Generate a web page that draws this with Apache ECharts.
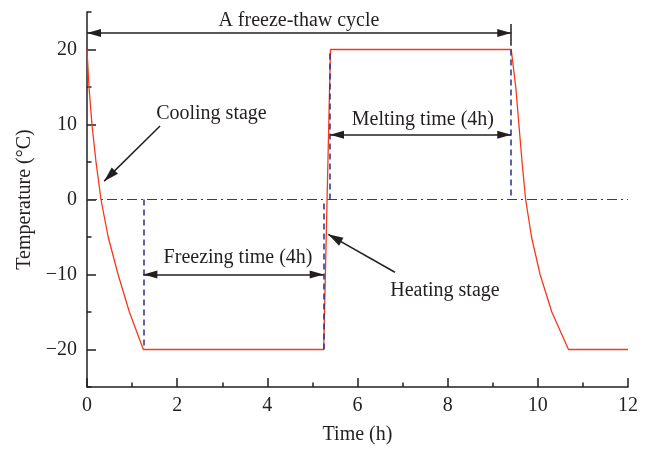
<!DOCTYPE html>
<html>
<head>
<meta charset="utf-8">
<script src="https://cdn.jsdelivr.net/npm/echarts@6/dist/echarts.min.js"></script>
<style>html,body{margin:0;padding:0;background:#fff}#c{width:647px;height:450px}</style>
</head>
<body>
<div id="c"></div>
<script>
// ---- data ----
const timeH = [0, 0.044, 0.11, 0.2, 0.31, 0.47, 0.69, 0.94, 1.25, 5.25, 5.4, 9.41, 9.51, 9.58, 9.65, 9.73, 9.86, 10.05, 10.31, 10.68, 12];
const tempC = [20, 15, 10, 5, 0, -5, -10, -15, -20, -20, 20, 20, 15, 10, 5, 0, -5, -10, -15, -20, -20];
const xTicks = [0, 2, 4, 6, 8, 10, 12];
const yTicks = [-20, -10, 0, 10, 20];
const zeroLine = [[0, 0], [12, 0]];
// dashed guide lines: [t, fromTemp, toTemp]
const guides = [[1.25, 0, -20], [5.25, -20, 0], [5.39, 0, 20], [9.41, 20, 0]];
// double arrows: [tFrom, tTo, temp]
const spans = [[0, 9.41, 22.2], [5.39, 9.41, 8.64], [1.25, 5.25, -10]];
// pointer arrows: [tFrom, tempFrom, tTo, tempTo]
const pointers = [[1.62, 9.8, 0.38, 2.45], [6.83, -9.7, 5.35, -4.64]];
// cycle end bar: [t, from, to]
const endBar = [9.41, 20.5, 23.4];
// text labels: [t, temp, text]
const notes = [
  [4.70, 23.9, 'A freeze-thaw cycle'],
  [7.45, 10.6, 'Melting time (4h)'],
  [3.35, -7.7, 'Freezing time (4h)'],
  [2.76, 11.5, 'Cooling stage'],
  [7.94, -12.2, 'Heating stage']
];

const F = '"Liberation Serif", "DejaVu Serif", serif';
const INK = '#231f20';
const fmt = v => (v < 0 ? '\u2212' + Math.abs(v) : String(v));

const arrowLines = [];
spans.forEach(s => {
  arrowLines.push([
    {coord: [s[0], s[2]], symbol: 'triangle', symbolSize: [8, 14], symbolOffset: [0, 7]},
    {coord: [s[1], s[2]], symbol: 'triangle', symbolSize: [8, 14], symbolOffset: [0, 7]}
  ]);
});
pointers.forEach(p => {
  arrowLines.push([
    {coord: [p[0], p[1]], symbol: 'none'},
    {coord: [p[2], p[3]], symbol: 'triangle', symbolSize: [9, 15], symbolOffset: [0, 7.5]}
  ]);
});
arrowLines.push([
  {coord: [endBar[0], endBar[1]], symbol: 'none'},
  {coord: [endBar[0], endBar[2]], symbol: 'none'}
]);

const guideLines = guides.map(g => [
  {coord: [g[0], g[1]]}, {coord: [g[0], g[2]]}
]);

const chart = echarts.init(document.getElementById('c'), null, {renderer: 'canvas'});
chart.setOption({
  animation: false,
  grid: {left: 87, right: 19, top: 12, bottom: 59},
  xAxis: {
    type: 'value', min: 0, max: 12, interval: 2,
    axisLine: {onZero: false, lineStyle: {color: INK, width: 1.5}},
    axisTick: {inside: true, length: 9, lineStyle: {color: INK, width: 1.5}},
    minorTick: {show: true, splitNumber: 2, length: 4.5, lineStyle: {color: INK, width: 1.5}},
    splitLine: {show: false},
    axisLabel: {color: INK, fontFamily: F, fontSize: 20, margin: 9, customValues: xTicks},
    name: 'Time (h)', nameLocation: 'middle', nameGap: 38,
    nameTextStyle: {color: INK, fontFamily: F, fontSize: 20}
  },
  yAxis: [{
    type: 'value', min: -25, max: 25, interval: 5, position: 'left',
    axisLine: {show: true, onZero: false, lineStyle: {color: INK, width: 1.5}},
    axisTick: {show: true, inside: true, length: 4.5, lineStyle: {color: INK, width: 1.5}},
    axisLabel: {show: false},
    splitLine: {show: false},
    name: 'Temperature (\u00B0C)', nameLocation: 'middle', nameGap: 52,
    nameTextStyle: {color: INK, fontFamily: F, fontSize: 20}
  }, {
    type: 'value', min: -25, max: 25, position: 'left',
    axisLine: {show: false, onZero: false},
    axisTick: {show: true, inside: true, length: 9, customValues: yTicks, lineStyle: {color: INK, width: 1.5}},
    axisLabel: {color: INK, fontFamily: F, fontSize: 20, margin: 10, customValues: yTicks, formatter: fmt},
    splitLine: {show: false}
  }],
  series: [{
    type: 'line', data: zeroLine, symbol: 'none', silent: true,
    lineStyle: {color: '#404040', width: 1.2, type: [10, 4, 2, 4]}
  }, {
    type: 'line', data: [], symbol: 'none', silent: true,
    markLine: {
      silent: true, symbol: ['none', 'none'], animation: false,
      label: {show: false},
      lineStyle: {color: '#2e2e8c', width: 1.5, type: [6, 4]},
      emphasis: {disabled: true},
      data: guideLines
    }
  }, {
    type: 'line', data: timeH.map((t, i) => [t, tempC[i]]), symbol: 'none', silent: true,
    lineStyle: {color: '#f5391c', width: 1.3}
  }, {
    type: 'line', data: [], symbol: 'none', silent: true,
    markLine: {
      silent: true, animation: false,
      label: {show: false},
      lineStyle: {color: INK, width: 1.5, type: 'solid'},
      itemStyle: {color: INK},
      emphasis: {disabled: true},
      data: arrowLines
    }
  }]
});

chart.setOption({
  graphic: notes.map(n => {
    const p = chart.convertToPixel({xAxisIndex: 0, yAxisIndex: 0}, [n[0], n[1]]);
    return {
      type: 'text', x: p[0], y: p[1], silent: true,
      style: {text: n[2], fill: INK, font: '20px ' + F, textAlign: 'center', textVerticalAlign: 'middle'}
    };
  })
});
</script>
</body>
</html>
